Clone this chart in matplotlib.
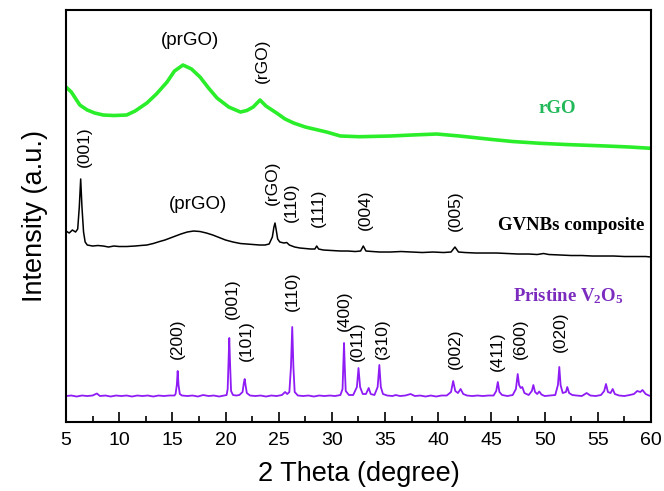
import numpy as np
import matplotlib
matplotlib.use("Agg")
import matplotlib.pyplot as plt
from matplotlib.ticker import MultipleLocator

plt.rcParams['font.family'] = ['Liberation Sans', 'DejaVu Sans']
plt.rcParams['mathtext.default'] = 'regular'

# XRD traces (intensity in a.u., each relative to its own baseline)
v2o5_theta = [5.0, 5.5, 6.0, 6.5, 7.0, 7.5, 7.9, 8.2, 8.7, 9.2, 9.7, 10.2, 10.7, 11.2, 11.7,
              12.2, 12.7, 13.2, 13.7, 14.2, 14.7, 15.2, 15.3, 15.42, 15.5, 15.58, 15.7, 15.9,
              16.4, 16.9, 17.4, 17.9, 18.4, 18.9, 19.4, 19.9, 20.1, 20.2, 20.28, 20.35, 20.42,
              20.52, 20.7, 21.0, 21.3, 21.6, 21.72, 21.8, 21.88, 22.0, 22.3, 22.8, 23.3, 23.8,
              24.3, 24.8, 25.3, 25.6, 25.8, 26.0, 26.15, 26.27, 26.38, 26.5, 26.8, 27.3, 27.8,
              28.3, 28.8, 29.3, 29.8, 30.3, 30.8, 31.0, 31.07, 31.14, 31.21, 31.3, 31.6, 32.0,
              32.35, 32.5, 32.65, 32.9, 33.2, 33.46, 33.65, 34.0, 34.3, 34.46, 34.6, 34.8, 35.2,
              35.7, 36.0, 36.4, 36.9, 37.4, 37.8, 38.3, 38.8, 39.3, 39.8, 40.3, 40.8, 41.2, 41.4,
              41.6, 41.85, 42.1, 42.35, 42.7, 43.2, 43.7, 44.2, 44.7, 45.2, 45.45, 45.6, 45.75,
              46.0, 46.5, 47.0, 47.3, 47.47, 47.6, 47.75, 47.9, 48.1, 48.5, 48.8, 48.94, 49.1,
              49.3, 49.5, 49.7, 50.0, 50.5, 51.0, 51.25, 51.38, 51.5, 51.7, 52.0, 52.13, 52.3,
              52.6, 53.0, 53.5, 53.95, 54.3, 54.8, 55.3, 55.6, 55.77, 55.95, 56.2, 56.4, 56.6,
              57.0, 57.5, 58.0, 58.4, 58.7, 59.0, 59.2, 59.5, 59.8, 60.0]
v2o5_int = [1, 1.5, 0.5, 1.5, 1, 1.5, 3.5, 1, 1.5, 0.5, 1.5, 1, 1.5, 0.5, 1.5,
            1, 1.5, 0.5, 1.5, 1, 1.5, 1.5, 3, 12, 26, 12, 3, 1.5,
            1, 1.5, 0.5, 2, 1, 1.5, 0.5, 1.5, 2, 8, 35, 59, 35,
            6, 2, 1.5, 2, 5, 14, 18, 12, 4, 1.5, 1, 1.5, 0.5,
            1.5, 1, 2, 5, 3, 5, 30, 70, 30, 5, 1.5, 1, 1.5,
            0.5, 1.5, 1, 1.5, 1, 2, 8, 30, 54, 30, 6, 2, 2,
            10, 29, 10, 3, 3, 9, 3, 2, 10, 32, 10, 3, 1.5,
            1, 2, 1, 1.5, 3, 1, 1.5, 0.5, 1.5, 0.5, 1.5, 1.5, 5, 16,
            6, 4, 8, 3, 1.5, 1, 1.5, 1, 1.5, 1.5, 6, 15, 5,
            2, 1, 2, 8, 23, 12, 9, 10, 4, 2, 6, 12, 5,
            3, 5.5, 2.5, 1, 1.5, 2, 12, 30, 12, 4, 5, 10, 4,
            2, 1.5, 1, 4, 1.5, 1, 2, 6, 13, 5, 4, 8, 3,
            1.5, 1, 2, 3, 6, 5, 7, 3, 1.5, 1]

gvnb_theta = [5.0, 5.3, 5.6, 5.9, 6.1, 6.25, 6.38, 6.5, 6.65, 6.8, 7.0, 7.5, 8.0, 8.5, 9.0,
              9.5, 10.0, 10.7, 11.5, 12.0, 12.6, 13.2, 13.8, 14.3, 14.8, 15.3, 15.8, 16.4,
              17.0, 17.6, 18.2, 18.8, 19.4, 20.0, 20.7, 21.4, 22.0, 22.6, 23.2, 23.7, 24.1,
              24.4, 24.55, 24.65, 24.75, 24.9, 25.1, 25.5, 25.75, 26.0, 26.5, 27.0, 27.5,
              28.0, 28.4, 28.57, 28.75, 29.2, 30.0, 30.8, 31.5, 32.2, 32.7, 32.95, 33.2,
              33.8, 34.5, 35.5, 36.5, 37.5, 38.5, 39.5, 40.5, 41.2, 41.57, 41.9, 42.5, 43.5,
              44.5, 45.5, 46.5, 47.5, 48.5, 49.3, 49.9, 50.4, 51.5, 52.5, 53.5, 54.5, 55.5,
              56.5, 57.5, 58.5, 59.5, 60.0]
gvnb_int = [26, 24, 27, 25, 28, 50, 78, 50, 25, 15, 12, 11, 11.5, 11, 10,
            11, 10.5, 10.5, 11, 11.5, 12, 13.5, 15.5, 17, 19, 21, 23, 25,
            26, 25.5, 24, 22, 19.5, 17, 15, 13.5, 13, 12.5, 12, 12, 13,
            20, 30, 34, 28, 18, 15, 14, 14.5, 12, 10, 9, 8.5,
            8, 8, 11, 8, 7, 6.5, 6, 6, 5.5, 6, 11, 6,
            5.5, 5, 5, 5.5, 5, 4.5, 5, 4.5, 5, 10, 5, 4.5, 4,
            4, 4, 3.5, 3, 3, 2.5, 3.5, 2.5, 2, 1.5, 1.5, 1, 1,
            1, 0.5, 0.5, 0.5, 0]

rgo_theta = [5.0, 5.5, 6.3, 7.0, 7.7, 8.5, 9.5, 10.7, 11.5, 12.6, 13.5, 14.5, 15.2, 16.0,
             16.8, 17.6, 18.4, 19.2, 20.3, 21.4, 22.0, 22.6, 23.24, 23.8, 24.8, 25.6, 26.4,
             27.5, 29.5, 30.8, 32.6, 35.5, 37.5, 39.85, 42.0, 44.9, 47.0, 49.6, 52.0, 55.8,
             58.0, 60.0]
rgo_int = [63, 58, 45, 40, 37, 35, 34.5, 35, 39, 47, 56, 68, 79, 85,
           81, 73, 62, 52, 43, 38, 39.5, 43, 50, 44, 37, 31, 27,
           23, 18, 14, 13.3, 14, 15, 16, 14, 10.7, 8.5, 6.7, 5.5, 4,
           3, 1.7]

# stacking offsets for the three patterns
offsets = {'v2o5': 25, 'gvnb': 165, 'rgo': 272}

# peak labels: (text, 2theta, intensity position)
v2o5_labels = [("(200)", 15.5, 83), ("(001)", 20.6, 123), ("(101)", 22.0, 81),
               ("(110)", 26.3, 131), ("(400)", 31.2, 111), ("(011)", 32.4, 81),
               ("(310)", 34.7, 83), ("(002)", 41.6, 73), ("(411)", 45.6, 71),
               ("(600)", 47.7, 83), ("(020)", 51.45, 90)]
gvnb_labels = [("(001)", 6.7, 275), ("(rGO)", 24.45, 239), ("(110)", 26.2, 220),
               ("(111)", 28.7, 214), ("(004)", 33.1, 212), ("(005)", 41.57, 211)]
rgo_labels = [("(rGO)", 23.5, 361)]

fig = plt.figure(figsize=(6.64, 4.91), dpi=100)
ax = fig.add_axes([0.0994, 0.1405, 0.881, 0.8391])

ax.plot(rgo_theta, np.array(rgo_int) + offsets['rgo'], color='#2bee2b', lw=2.6)
ax.plot(gvnb_theta, np.array(gvnb_int) + offsets['gvnb'], color='black', lw=1.1)
ax.plot(v2o5_theta, np.array(v2o5_int) + offsets['v2o5'], color='#8f1bf5', lw=1.3)

for txt, x, y in v2o5_labels + gvnb_labels + rgo_labels:
    ax.text(x, y, txt, rotation=90, ha='center', va='center', fontsize=12.5)
ax.text(16.66, 382, "(prGO)", ha='center', va='center', fontsize=13.5)
ax.text(17.4, 218, "(prGO)", ha='center', va='center', fontsize=13.5)

ax.text(51.15, 314, "rGO", ha='center', va='center', fontsize=13.5,
        fontweight='bold', family='Liberation Serif', color='#20b858')
ax.text(52.5, 197, "GVNBs composite", ha='center', va='center', fontsize=13.5,
        fontweight='bold', family='Liberation Serif', color='black')
ax.text(52.2, 126, "Pristine V$_2$O$_5$", ha='center', va='center', fontsize=13.5,
        fontweight='bold', family='Liberation Serif', color='#7b2cbf')

ax.set_xlim(5, 60)
ax.set_ylim(0, 412)
ax.xaxis.set_major_locator(MultipleLocator(5))
ax.xaxis.set_minor_locator(MultipleLocator(2.5))
ax.tick_params(axis='x', which='both', direction='in', top=False, labelsize=14, pad=7)
ax.tick_params(axis='x', which='major', length=7, width=1.2)
ax.tick_params(axis='x', which='minor', length=4, width=1.2)
ax.set_yticks([])
for sp in ax.spines.values():
    sp.set_linewidth(1.5)

ax.set_xlabel("2 Theta (degree)", fontsize=19.5, labelpad=9)
ax.set_ylabel("Intensity (a.u.)", fontsize=19.5, labelpad=13)

fig.savefig("out.png", dpi=100)
